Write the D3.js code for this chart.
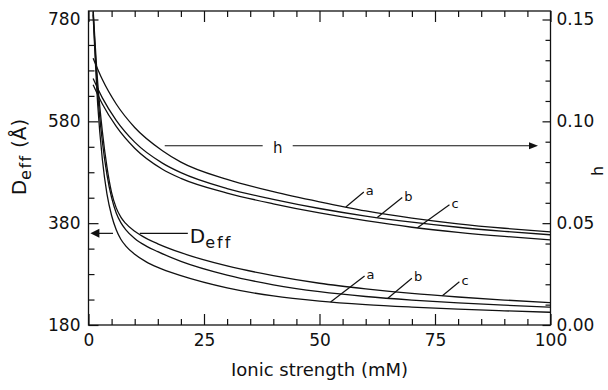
<!DOCTYPE html>
<html>
<head>
<meta charset="utf-8">
<title>Deff and h vs ionic strength</title>
<style>
	body { margin: 0; background: #fff; }
	svg text { font-family: "DejaVu Sans", sans-serif; fill: #111; }
	.axis path { display: none; }
	.axis line { stroke: #111; stroke-width: 1.2; }
	.axis text { font-size: 17px; }
	.curve { fill: none; stroke: #111; stroke-width: 1.3; }
	.note { stroke: #111; stroke-width: 1.2; fill: none; }
</style>
</head>
<body>
<svg id="chart" width="608" height="390"></svg>
<script src="https://cdn.jsdelivr.net/npm/d3@7"></script>
<script>
// ionic strength (mM) grid for the D_eff curves
var ionicD = [1, 2, 3, 4, 5, 6, 7, 8, 10, 12.5, 15, 20, 30, 40, 50, 60, 70, 80, 90, 100];
var deffA = [790, 612, 505, 437, 395, 367, 348.5, 336, 319, 304, 293, 277, 253, 237, 227, 220.2, 215.2, 211, 207.8, 205];
var deffB = [795, 635, 540, 475, 430, 400, 381, 368, 350, 335, 324, 305, 278, 259, 245.5, 236, 229, 223.5, 219, 215];
var deffC = [800, 655, 560, 490, 440, 410, 392, 380, 364, 350, 339.5, 322, 296, 277, 262, 251, 242, 235, 229, 224];

// ionic strength grid for the h curves
var ionicH = [1, 3, 6, 10, 16, 20, 30, 40, 50, 60, 70, 80, 90, 100];
var hA = [0.131, 0.1205, 0.1085, 0.0970, 0.0856, 0.0800, 0.0715, 0.0655, 0.0605, 0.0560, 0.0525, 0.0497, 0.0475, 0.0457];
var hB = [0.121, 0.1115, 0.1005, 0.0898, 0.0795, 0.0748, 0.0670, 0.0617, 0.0572, 0.0535, 0.0505, 0.0480, 0.0460, 0.0443];
var hC = [0.118, 0.1085, 0.0975, 0.0868, 0.0765, 0.0720, 0.0648, 0.0595, 0.0550, 0.0512, 0.0480, 0.0455, 0.0435, 0.0418];

var curveNames = ["a", "b", "c"];

// ticks
var xMajor = [0, 25, 50, 75, 100];
var leftMajor = [180, 380, 580, 780];
var rightMajor = [0, 0.05, 0.10, 0.15];

// where the a/b/c leaders touch the curves (ionic strength)
var hLabelI = [55.7, 62.5, 71.2];
var deffLabelI = [52.4, 64.8, 76.6];

// arrows: level and segment ends in ionic strength
var hArrowLevel = 0.088;
var hArrowI = [16.5, 37.7, 44.2, 97.3];
var deffArrowLevel = 360;
var deffArrowI = [0.4, 5.3, 11.1, 21.5];

var svg = d3.select("#chart");
var pLeft = 88.5, pRight = 550.5, pTop = 11, pBottom = 325;

var x = d3.scaleLinear().domain([0, 100]).range([pLeft, pRight]);
var yL = d3.scaleLinear().domain([180, 780]).range([pBottom, 19.5]);
var yR = d3.scaleLinear().domain([0, 0.15]).range([pBottom, 19.5]);

svg.append("clipPath").attr("id", "clip").append("rect")
	.attr("x", pLeft).attr("y", pTop)
	.attr("width", pRight - pLeft).attr("height", pBottom - pTop);

// axes, ticks pointing inward
var xMinor = d3.range(0, 101, 5).filter(function(d) { return d % 25 != 0; });
var leftMinor = d3.range(180, 781, 50).filter(function(d) { return leftMajor.indexOf(d) < 0; });
var rightMinor = d3.range(0, 16).filter(function(i) { return i % 5 != 0; }).map(function(i) { return i / 100; });

svg.append("g").attr("class", "axis").attr("transform", "translate(0," + pBottom + ")")
	.call(d3.axisBottom(x).tickValues(xMajor).tickSize(-11).tickPadding(9).tickFormat(d3.format("d")));
svg.append("g").attr("class", "axis").attr("transform", "translate(0," + pBottom + ")")
	.call(d3.axisBottom(x).tickValues(xMinor).tickSize(-6).tickFormat(""));
svg.append("g").attr("class", "axis").attr("transform", "translate(0," + pTop + ")")
	.call(d3.axisTop(x).tickValues(xMajor).tickSize(-11).tickFormat(""));
svg.append("g").attr("class", "axis").attr("transform", "translate(0," + pTop + ")")
	.call(d3.axisTop(x).tickValues(xMinor).tickSize(-6).tickFormat(""));

svg.append("g").attr("class", "axis").attr("transform", "translate(" + pLeft + ",0)")
	.call(d3.axisLeft(yL).tickValues(leftMajor).tickSize(-10).tickPadding(8).tickFormat(d3.format("d")));
svg.append("g").attr("class", "axis").attr("transform", "translate(" + pLeft + ",0)")
	.call(d3.axisLeft(yL).tickValues(leftMinor).tickSize(-6).tickFormat(""));

svg.append("g").attr("class", "axis").attr("transform", "translate(" + pRight + ",0)")
	.call(d3.axisRight(yR).tickValues(rightMajor).tickSize(-8).tickPadding(6).tickFormat(d3.format(".2f")));
svg.append("g").attr("class", "axis").attr("transform", "translate(" + pRight + ",0)")
	.call(d3.axisRight(yR).tickValues(rightMinor).tickSize(-5).tickFormat(""));

// frame
svg.append("rect")
	.attr("x", pLeft).attr("y", pTop)
	.attr("width", pRight - pLeft).attr("height", pBottom - pTop)
	.attr("fill", "none").attr("stroke", "#111").attr("stroke-width", 1.3);

// curves
function drawCurves(grid, series, scale) {
	var line = d3.line()
		.x(function(d, i) { return x(grid[i]); })
		.y(function(d) { return scale(d); })
		.curve(d3.curveMonotoneX);
	series.forEach(function(vals) {
		svg.append("path").attr("class", "curve")
			.attr("clip-path", "url(#clip)")
			.attr("d", line(vals));
	});
}
drawCurves(ionicD, [deffA, deffB, deffC], yL);
drawCurves(ionicH, [hA, hB, hC], yR);

// a / b / c leaders
function leaders(grid, series, scale, at, dx, dy) {
	series.forEach(function(vals, i) {
		var interp = d3.scaleLinear().domain(grid).range(vals);
		var x0 = x(at[i]), y0 = scale(interp(at[i]));
		var x1 = x0 + dx[i], y1 = y0 + dy[i];
		svg.append("line").attr("class", "note")
			.attr("x1", x0).attr("y1", y0).attr("x2", x1).attr("y2", y1);
		svg.append("text")
			.attr("x", x1 + 2).attr("y", y1 + 3)
			.attr("font-size", 13)
			.text(curveNames[i]);
	});
}
leaders(ionicH, [hA, hB, hC], yR, hLabelI, [18, 25, 32], [-15, -20, -23]);
leaders(ionicD, [deffA, deffB, deffC], yL, deffLabelI, [34, 24, 17], [-26, -20, -14]);

// arrows
function segment(I0, I1, y) {
	svg.append("line").attr("class", "note")
		.attr("x1", x(I0)).attr("x2", x(I1)).attr("y1", y).attr("y2", y);
}
function head(tipX, y, dir, len, half) {
	svg.append("path")
		.attr("d", "M" + tipX + "," + y + "L" + (tipX - dir * len) + "," + (y - half) +
			"L" + (tipX - dir * len) + "," + (y + half) + "Z")
		.attr("fill", "#111");
}

var hy = yR(hArrowLevel);
segment(hArrowI[0], hArrowI[1], hy);
segment(hArrowI[2], hArrowI[3] - 1.5, hy);
head(x(hArrowI[3]), hy, 1, 9, 3.5);
svg.append("text")
	.attr("x", x((hArrowI[1] + hArrowI[2]) / 2)).attr("y", hy + 7)
	.attr("text-anchor", "middle").attr("font-size", 15)
	.text("h");

var dy = yL(deffArrowLevel);
segment(deffArrowI[0] + 1.5, deffArrowI[1], dy);
segment(deffArrowI[2], deffArrowI[3], dy);
head(x(deffArrowI[0]), dy, -1, 9, 4.5);
var dt = svg.append("text")
	.attr("x", x(deffArrowI[3]) + 2).attr("y", dy + 10)
	.attr("font-size", 20);
dt.append("tspan").text("D");
dt.append("tspan").attr("dy", 5).attr("font-size", 16).attr("letter-spacing", 2).text("eff");

// axis titles
svg.append("text")
	.attr("x", (pLeft + pRight) / 2).attr("y", 376)
	.attr("text-anchor", "middle").attr("font-size", 18)
	.text("Ionic strength (mM)");

var lt = svg.append("text")
	.attr("transform", "translate(26,157) rotate(-90)")
	.attr("text-anchor", "middle").attr("font-size", 20);
lt.append("tspan").text("D");
lt.append("tspan").attr("dy", 5).attr("font-size", 16).attr("letter-spacing", 1.5).text("eff");
lt.append("tspan").attr("dy", -5).text(" (\u00c5)");

svg.append("text")
	.attr("transform", "translate(603,171) rotate(-90)")
	.attr("text-anchor", "middle").attr("font-size", 16)
	.text("h");
</script>
</body>
</html>
